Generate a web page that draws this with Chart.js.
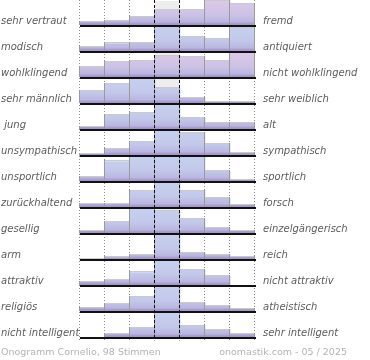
<!DOCTYPE html>
<html><head><meta charset="utf-8">
<script src="https://cdn.jsdelivr.net/npm/chart.js@4.4.1/dist/chart.umd.min.js"></script>
<style>html,body{margin:0;padding:0;background:#fff}#wrap{width:370px;height:360px;position:relative}</style>
</head><body><div id="wrap"><canvas id="c" width="370" height="360"></canvas></div>
<script>
// ---- data ----
const categories = ['1', '2', '3', '4', '5', '6', '7'];
const leftLabels = ['sehr vertraut', 'modisch', 'wohlklingend', 'sehr männlich', ' jung', 'unsympathisch', 'unsportlich', 'zurückhaltend', 'gesellig', 'arm', 'attraktiv', 'religiös', 'nicht intelligent'];
const rightLabels = ['fremd', 'antiquiert', 'nicht wohlklingend', 'sehr weiblich', 'alt', 'sympathisch', 'sportlich', 'forsch', 'einzelgängerisch', 'reich', 'nicht attraktiv', 'atheistisch', 'sehr intelligent'];
const vertraut      = [3, 5, 9, 16, 16, 26, 23];
const modisch       = [4, 8, 9, 25, 15, 13, 24];
const wohlklingend  = [8, 12, 13, 17, 16, 13, 19];
const maennlich     = [15, 24, 30, 19, 7, 2, 1];
const jung          = [3, 17, 20, 29, 13, 8, 8];
const unsympathisch = [2, 7, 16, 29, 27, 14, 3];
const unsportlich   = [4, 18, 22, 22, 22, 9, 1];
const zurueck       = [4, 4, 21, 32, 22, 12, 3];
const gesellig      = [3, 13, 29, 27, 17, 6, 3];
const arm           = [1, 4, 10, 54, 13, 10, 6];
const attraktiv     = [4, 7, 18, 34, 22, 13, 0];
const religioes     = [5, 11, 22, 37, 12, 8, 3];
const intelligent   = [0, 6, 15, 40, 19, 12, 6];
const series = [vertraut, modisch, wohlklingend, maennlich, jung, unsympathisch, unsportlich, zurueck, gesellig, arm, attraktiv, religioes, intelligent];
const footerLeft = 'Onogramm Cornelio, 98 Stimmen';
const footerRight = 'onomastik.com - 05 / 2025';

// ---- style ----
const ROWS = series.length;
const H = 24.2 / 26;          // bar height fraction of a row
const pinkRows = [0, 2];
const labelFont = 'italic 10px "DejaVu Sans"';
const labelColor = '#5c5c5c';

function rowBase(i) { return ROWS - 1 - i; }

function rowGradient(ctx, chart, i) {
  const y = chart.scales.y;
  if (!y || !chart.chartArea) return '#c4c6e8';
  const b = y.getPixelForValue(rowBase(i));
  const t = y.getPixelForValue(rowBase(i) + H);
  const g = ctx.createLinearGradient(0, t, 0, b);
  g.addColorStop(0, pinkRows.includes(i) ? '#dcc7e6' : '#c6d0ee');
  g.addColorStop(0.55, pinkRows.includes(i) ? '#cdc3e6' : '#c3c8ea');
  g.addColorStop(0.86, '#bab6e0');
  g.addColorStop(0.92, '#ab9fd2');
  g.addColorStop(1, '#a192c8');
  return g;
}

const datasets = series.map((vals, i) => {
  const max = Math.max(...vals);
  return {
    label: leftLabels[i],
    data: vals.map(v => v > 0 ? [rowBase(i), rowBase(i) + v / max * H] : null),
    backgroundColor: (c) => rowGradient(c.chart.ctx, c.chart, i),
    borderWidth: 0
  };
});

const decor = {
  id: 'decor',
  beforeDatasetsDraw(chart) {
    const { ctx, chartArea: a, scales: { x, y } } = chart;
    const colW = x.getPixelForValue(1) - x.getPixelForValue(0);
    ctx.save();
    // neutral column background
    ctx.fillStyle = '#ededed';
    series.forEach((s, i) => {
      const b = y.getPixelForValue(rowBase(i));
      const t = y.getPixelForValue(rowBase(i) + H);
      const cx = x.getPixelForValue(3);
      ctx.fillRect(cx - colW / 2, t, colW, b - t);
    });
    // dotted grid lines
    ctx.strokeStyle = '#8c8c8c';
    ctx.lineWidth = 1;
    ctx.setLineDash([1, 2]);
    for (let k = 0; k <= categories.length; k++) {
      if (k === 3 || k === 4) continue;
      const px = Math.round(x.getPixelForValue(k - 0.5)) - 0.5;
      ctx.beginPath(); ctx.moveTo(px, a.top); ctx.lineTo(px, a.bottom + 3); ctx.stroke();
    }
    ctx.restore();
  },
  afterDatasetsDraw(chart) {
    const { ctx, chartArea: a, scales: { x, y } } = chart;
    ctx.save();
    // bar edges
    chart.data.datasets.forEach((ds, i) => {
      const meta = chart.getDatasetMeta(i);
      meta.data.forEach((el, j) => {
        if (!ds.data[j]) return;
        const p = el.getProps(['x', 'y', 'base', 'width'], true);
        const l = Math.round(p.x - p.width / 2), r = Math.round(p.x + p.width / 2);
        ctx.fillStyle = '#cacaca';
        ctx.fillRect(l, Math.round(p.y) - 1, r - l, 1);
        ctx.fillStyle = '#9a9a9a';
        ctx.fillRect(l - 1, Math.round(p.y) - 1, 1, p.base - p.y + 1);
        ctx.fillRect(r - 1, Math.round(p.y) - 1, 1, p.base - p.y + 1);
      });
    });
    // baselines
    ctx.fillStyle = '#111';
    series.forEach((s, i) => {
      const b = Math.round(y.getPixelForValue(rowBase(i)));
      ctx.fillRect(a.left, b, a.right - a.left + 1, 2);
    });
    // dashed neutral lines
    ctx.strokeStyle = '#111';
    ctx.lineWidth = 1;
    ctx.setLineDash([3, 2]);
    [3, 4].forEach(k => {
      const px = Math.round(x.getPixelForValue(k - 0.5)) - 0.5;
      ctx.beginPath(); ctx.moveTo(px, a.top); ctx.lineTo(px, a.bottom + 3); ctx.stroke();
    });
    ctx.setLineDash([]);
    // labels
    ctx.font = labelFont;
    ctx.fillStyle = labelColor;
    ctx.textBaseline = 'middle';
    series.forEach((s, i) => {
      const ty = y.getPixelForValue(rowBase(i)) - 3.8;
      ctx.textAlign = 'left';
      ctx.fillText(leftLabels[i], 1, ty);
      ctx.fillText(rightLabels[i], a.right + 8, ty);
    });
    // footer
    ctx.font = '9.5px "DejaVu Sans"';
    ctx.fillStyle = '#b3b3b3';
    ctx.textAlign = 'left';
    ctx.fillText(footerLeft, 1, 353);
    ctx.textAlign = 'right';
    ctx.fillText(footerRight, 347, 353);
    ctx.restore();
  }
};

new Chart(document.getElementById('c'), {
  type: 'bar',
  data: { labels: categories, datasets },
  options: {
    responsive: false,
    animation: false,
    devicePixelRatio: 1,
    layout: { padding: { left: 80, right: 115, top: 0, bottom: 22.7 } },
    plugins: { legend: { display: false }, tooltip: { enabled: false } },
    datasets: { bar: { grouped: false, barPercentage: 1, categoryPercentage: 1 } },
    scales: {
      x: { type: 'category', display: false, offset: true },
      y: { type: 'linear', display: false, min: 0, max: ROWS - 0.03 }
    }
  },
  plugins: [decor]
});
</script>
</body></html>
